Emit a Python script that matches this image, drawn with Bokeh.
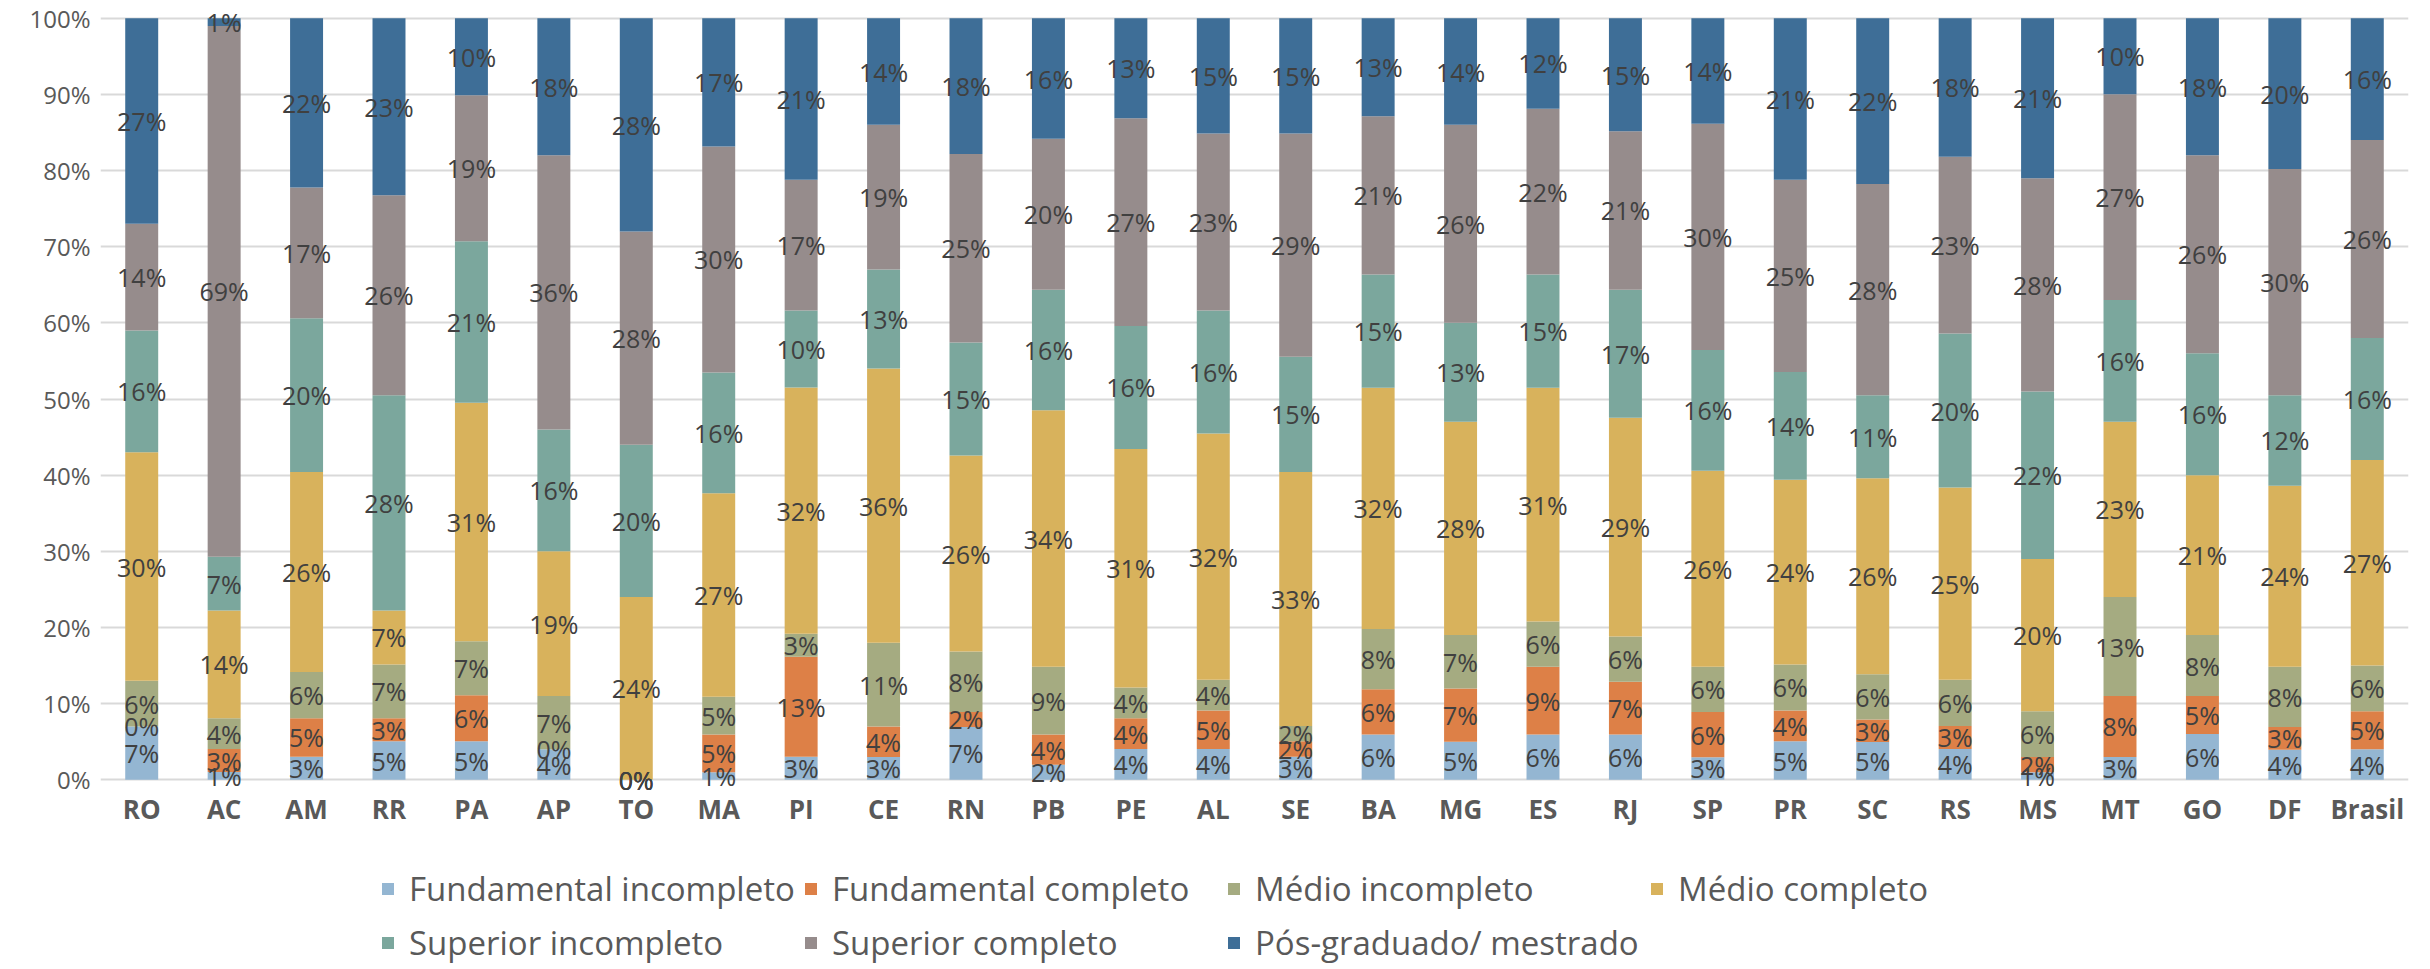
from bokeh.plotting import figure
from bokeh.models import (ColumnDataSource, FactorRange, NumeralTickFormatter, Legend,
                          LegendItem, FixedTicker, LabelSet, Range1d)
from bokeh.core.properties import value
from bokeh.embed import file_html
from bokeh.resources import INLINE

states = ["RO", "AC", "AM", "RR", "PA", "AP", "TO", "MA", "PI", "CE", "RN", "PB", "PE", "AL",
          "SE", "BA", "MG", "ES", "RJ", "SP", "PR", "SC", "RS", "MS", "MT", "GO", "DF", "Brasil"]

series_names = ["Fundamental incompleto", "Fundamental completo", "Médio incompleto",
                "Médio completo", "Superior incompleto", "Superior completo",
                "Pós-graduado/ mestrado"]

fund_incompleto = [7, 1, 3, 5, 5, 4, 0, 1, 3, 3, 7, 2, 4, 4, 3, 6, 5, 6, 6, 3, 5, 5, 4, 1, 3, 6, 4, 4]
fund_completo = [0, 3, 5, 3, 6, 0, 0, 5, 13, 4, 2, 4, 4, 5, 2, 6, 7, 9, 7, 6, 4, 3, 3, 2, 8, 5, 3, 5]
medio_incompleto = [6, 4, 6, 7, 7, 7, 0, 5, 3, 11, 8, 9, 4, 4, 2, 8, 7, 6, 6, 6, 6, 6, 6, 6, 13, 8, 8, 6]
medio_completo = [30, 14, 26, 7, 31, 19, 24, 27, 32, 36, 26, 34, 31, 32, 33, 32, 28, 31, 29, 26, 24, 26, 25, 20, 23, 21, 24, 27]
sup_incompleto = [16, 7, 20, 28, 21, 16, 20, 16, 10, 13, 15, 16, 16, 16, 15, 15, 13, 15, 17, 16, 14, 11, 20, 22, 16, 16, 12, 16]
sup_completo = [14, 69, 17, 26, 19, 36, 28, 30, 17, 19, 25, 20, 27, 23, 29, 21, 26, 22, 21, 30, 25, 28, 23, 28, 27, 26, 30, 26]
pos_graduado = [27, 1, 22, 23, 10, 18, 28, 17, 21, 14, 18, 16, 13, 15, 15, 13, 14, 12, 15, 14, 21, 22, 18, 21, 10, 18, 20, 16]

colors = ["#94B6D2", "#DD8047", "#A5AB81", "#D8B25C", "#7BA79D", "#968C8C", "#3E6E97"]

series = [fund_incompleto, fund_completo, medio_incompleto, medio_completo,
          sup_incompleto, sup_completo, pos_graduado]
keys = ["s%d" % i for i in range(len(series))]

# 100% stacked: normalise each state's values to its total
data = {"state": states}
for k, s in zip(keys, series):
    data[k] = [s[i] / sum(col[i] for col in series) for i in range(len(states))]
source = ColumnDataSource(data)

lx, ly, lt = [], [], []
for i, st in enumerate(states):
    cum = 0.0
    for k, s in zip(keys, series):
        v = data[k][i]
        lx.append(st)
        ly.append(cum + v / 2)
        lt.append("%d%%" % s[i])
        cum += v
label_source = ColumnDataSource(dict(x=lx, y=ly, t=lt))

# layout (pixels): the frame is extended below 0% so that labels/legend are not clipped
W, H = 2414, 968
PX_PER_UNIT = 761.6
Y_ONE = 17.7             # canvas y of 100%
Y_ZERO = Y_ONE + PX_PER_UNIT
y_end = 1 + Y_ONE / PX_PER_UNIT
y_start = -(H - Y_ZERO) / PX_PER_UNIT

p = figure(width=W, height=H, x_range=FactorRange(*states, range_padding=0),
           y_range=Range1d(y_start, y_end), output_backend="svg", toolbar_location=None,
           x_axis_location=None,
           min_border_left=100, min_border_right=6, min_border_top=0,
           min_border_bottom=0)
p.outline_line_color = None
p.background_fill_color = "white"

renderers = p.vbar_stack(keys, x="state", width=0.4, color=colors, source=source,
                         line_color=None)

labels = LabelSet(x="x", y="y", text="t", source=label_source,
                  text_align="center", text_baseline="middle",
                  text_font=value("Open Sans"), text_font_size=value("25px"),
                  text_color="#404040")
p.add_layout(labels)

# category labels under the bars
XLAB_Y = 808
xlab_source = ColumnDataSource(dict(x=states, y=[-(XLAB_Y - Y_ZERO) / PX_PER_UNIT] * len(states),
                                    t=states))
xlabels = LabelSet(x="x", y="y", text="t", source=xlab_source,
                   text_align="center", text_baseline="middle",
                   text_font=value("Open Sans"), text_font_size=value("26px"),
                   text_font_style="bold", text_color="#595959")
p.add_layout(xlabels)

p.yaxis.ticker = FixedTicker(ticks=[i / 10 for i in range(11)])
p.yaxis.formatter = NumeralTickFormatter(format="0%")
ax = p.yaxis[0]
ax.axis_line_color = None
ax.major_tick_line_color = None
ax.minor_tick_line_color = None
ax.major_tick_out = 0
ax.major_tick_in = 0
ax.minor_tick_out = 0
ax.major_label_text_font = "Open Sans"
ax.major_label_text_color = "#595959"
ax.major_label_text_font_size = "24px"
ax.major_label_standoff = 10

p.xgrid.grid_line_color = None
p.ygrid.grid_line_color = "#D9D9D9"
p.ygrid.grid_line_width = 2

items = [LegendItem(label=n, renderers=[r]) for n, r in zip(series_names, renderers)]
legend = Legend(items=items, location=(280, H - 942 - 25), orientation="horizontal",
                ncols=4, label_text_font="Open Sans", label_text_font_size="33px",
                label_text_color="#595959", glyph_width=15, glyph_height=15,
                label_standoff=14, label_width=390, label_height=50, spacing=4,
                padding=0, margin=0, border_line_color=None, background_fill_alpha=0)
p.add_layout(legend, "center")

open("out.html", "w").write(file_html(p, INLINE))
